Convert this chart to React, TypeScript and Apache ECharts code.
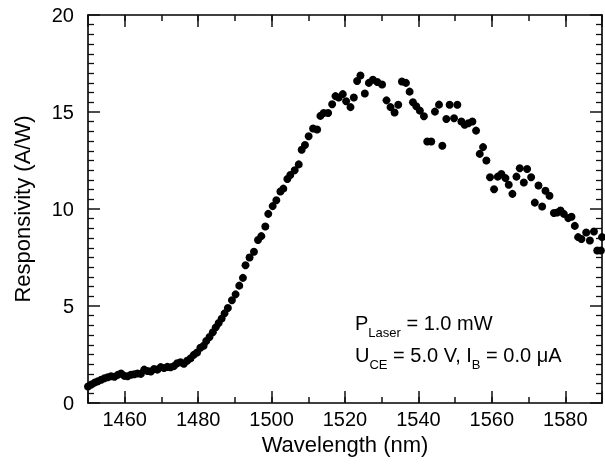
import React, { useEffect, useRef } from "react";
import * as echarts from "echarts";

const wavelength = [
  1450.0, 1450.9, 1451.8, 1452.7, 1453.6, 1454.5, 1455.4, 1456.3, 1457.2, 1458.1,
  1459.0, 1459.9, 1460.8, 1461.7, 1462.6, 1463.5, 1464.4, 1465.3, 1466.2, 1467.1,
  1468.0, 1468.9, 1469.8, 1470.7, 1471.6, 1472.5, 1473.4, 1474.3, 1475.2, 1476.1,
  1477.0, 1477.9, 1478.8, 1479.7, 1480.6, 1481.5, 1482.2, 1483.1, 1484.0, 1484.8,
  1485.6, 1486.4, 1487.2, 1488.1, 1489.2, 1490.2, 1491.2, 1492.2, 1492.9, 1494.0,
  1495.2, 1496.3, 1497.2, 1498.3, 1499.1, 1500.3, 1501.3, 1502.4, 1503.2, 1504.3,
  1505.1, 1506.3, 1507.4, 1508.2, 1509.1, 1510.1, 1511.3, 1512.4, 1513.3, 1514.2,
  1515.4, 1516.5, 1517.4, 1518.3, 1519.4, 1520.3, 1521.5, 1522.4, 1523.3, 1524.2,
  1525.4, 1526.5, 1527.6, 1528.8, 1530.1, 1531.3, 1532.4, 1533.5, 1534.5, 1535.5,
  1536.6, 1537.6, 1538.5, 1539.4, 1540.4, 1541.5, 1542.4, 1543.5, 1544.5, 1545.6,
  1546.5, 1547.6, 1548.5, 1549.7, 1550.6, 1551.7, 1552.6, 1553.6, 1554.7, 1555.7,
  1556.7, 1557.6, 1558.5, 1559.5, 1560.6, 1561.6, 1562.6, 1563.7, 1564.6, 1565.6,
  1566.7, 1567.6, 1568.7, 1569.6, 1570.7, 1571.7, 1572.7, 1573.7, 1574.6, 1575.7,
  1576.9, 1577.8, 1578.7, 1579.6, 1580.8, 1581.7, 1582.6, 1583.5, 1584.4, 1585.7,
  1586.7, 1587.8, 1588.7, 1589.7, 1590.0,
];

const responsivity = [
  0.85, 0.95, 1.05, 1.12, 1.2, 1.28, 1.33, 1.38, 1.35, 1.45,
  1.52, 1.4, 1.38, 1.46, 1.48, 1.52, 1.5, 1.72, 1.65, 1.62,
  1.75, 1.72, 1.85, 1.8, 1.86, 1.84, 1.9, 2.05, 2.1, 2.02,
  2.18, 2.3, 2.48, 2.6, 2.85, 2.95, 3.2, 3.4, 3.65, 3.9,
  4.12, 4.35, 4.62, 4.9, 5.3, 5.6, 6.05, 6.45, 7.1, 7.5,
  7.8, 8.4, 8.6, 9.1, 9.75, 10.15, 10.45, 10.9, 11.05, 11.55,
  11.75, 12.0, 12.3, 13.05, 13.3, 13.75, 14.15, 14.1, 14.8, 14.95,
  14.95, 15.4, 15.82, 15.75, 15.92, 15.55, 15.25, 15.75, 16.6, 16.88,
  15.95, 16.5, 16.66, 16.55, 16.42, 15.6, 15.25, 14.97, 15.37, 16.57,
  16.5, 16.05, 15.5, 15.3, 15.07, 14.78, 13.48, 13.48, 15.02, 15.38,
  13.26, 14.64, 15.37, 14.68, 15.37, 14.51, 14.34, 14.42, 14.51, 14.04,
  12.84, 13.19, 12.5, 11.64, 11.02, 11.67, 11.8, 11.59, 11.25, 10.78,
  11.67, 12.1, 11.37, 12.06, 11.64, 10.33, 11.21, 10.13, 10.94, 10.68,
  9.79, 9.82, 9.92, 9.75, 9.53, 9.6, 9.13, 8.55, 8.45, 8.79,
  8.38, 8.84, 7.86, 7.86, 8.55,
];

const FONT = "Liberation Sans, Arial, Helvetica, sans-serif";

const axLine = () => ({ show: true, onZero: false, lineStyle: { color: "#000", width: 1.6 } });
const tick = (len: number) => ({ show: true, inside: true, length: len, lineStyle: { color: "#111", width: 1.5 } });
const minor = () => ({ show: true, splitNumber: 10, length: 6, lineStyle: { color: "#111", width: 1.3 } });

export default function App() {
  const ref = useRef<HTMLDivElement>(null);
  useEffect(() => {
    if (!ref.current) return;
    const chart = echarts.init(ref.current, undefined, { renderer: "svg" });
    chart.setOption({
      animation: false,
      grid: { left: 88, right: 2, top: 15, bottom: 67 },
      xAxis: [
        {
          type: "value", min: 1450, max: 1590, splitNumber: 7, position: "bottom",
          splitLine: { show: false },
          name: "Wavelength (nm)",
          nameLocation: "middle",
          nameGap: 26,
          nameTextStyle: { fontFamily: FONT, fontSize: 22, color: "#000" },
          axisLine: axLine(),
          axisTick: tick(12),
          axisLabel: {
            show: true, margin: 6, fontFamily: FONT, fontSize: 20, color: "#000",
            formatter: (v: number) => (v % 20 === 0 ? String(v) : ""),
          },
        },
        {
          type: "value", min: 1450, max: 1590, interval: 10, position: "bottom",
          splitLine: { show: false },
          axisLine: { show: false, onZero: false },
          axisTick: tick(6),
          axisLabel: { show: false },
        },
        {
          type: "value", min: 1450, max: 1590, splitNumber: 7, position: "top",
          splitLine: { show: false },
          axisLine: axLine(),
          axisTick: tick(12),
          axisLabel: { show: false },
        },
        {
          type: "value", min: 1450, max: 1590, interval: 10, position: "top",
          splitLine: { show: false },
          axisLine: { show: false, onZero: false },
          axisTick: tick(6),
          axisLabel: { show: false },
        },
      ],
      yAxis: [
        {
          type: "value", min: 0, max: 20, interval: 5, position: "left",
          splitLine: { show: false },
          name: "Responsivity (A/W)",
          nameLocation: "middle",
          nameGap: 55,
          nameTextStyle: { fontFamily: FONT, fontSize: 22, color: "#000" },
          axisLine: axLine(),
          axisTick: tick(12),
          minorTick: minor(),
          axisLabel: { show: true, margin: 14, fontFamily: FONT, fontSize: 20, color: "#000" },
        },
        {
          type: "value", min: 0, max: 20, interval: 5, position: "right",
          splitLine: { show: false },
          axisLine: axLine(),
          axisTick: tick(12),
          minorTick: minor(),
          axisLabel: { show: false },
        },
      ],
      series: [
        {
          type: "scatter",
          symbol: "circle",
          symbolSize: 8,
          itemStyle: { color: "#000", opacity: 1 },
          data: wavelength.map((w, i) => [w, responsivity[i]]),
        },
      ],
      graphic: [
        {
          type: "text",
          x: 355,
          y: 307,
          style: {
            text:
              "{m|P}{s|Laser}{m| = 1.0 mW}\n{m|U}{s|CE}{m| = 5.0 V, I}{s|B}{m| = 0.0 μA}",
            fill: "#000",
            rich: {
              m: { fontFamily: FONT, fontSize: 20, lineHeight: 32, verticalAlign: "middle", fill: "#000" },
              s: { fontFamily: FONT, fontSize: 13, lineHeight: 32, verticalAlign: "bottom", fill: "#000" },
            },
          },
        },
      ],
    });
    return () => chart.dispose();
  }, []);
  return <div ref={ref} style={{ position: "fixed", left: 0, top: 0, width: 605, height: 470 }} />;
}
